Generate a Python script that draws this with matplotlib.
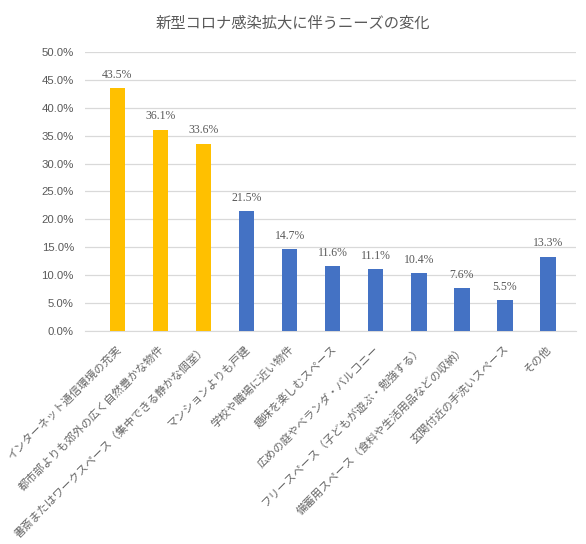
import numpy as np
import matplotlib.pyplot as plt
from matplotlib.transforms import ScaledTranslation

plt.rcParams['font.family'] = ['Noto Sans CJK JP', 'DejaVu Sans']

categories = [
    'インターネット通信環境の充実',
    '都市部よりも郊外の広く自然豊かな物件',
    '書斎またはワークスペース（集中できる静かな個室）',
    'マンションよりも戸建',
    '学校や職場に近い物件',
    '趣味を楽しむスペース',
    '広めの庭やベランダ・バルコニー',
    'フリースペース（子どもが遊ぶ・勉強する）',
    '備蓄用スペース（食料や生活用品などの収納）',
    '玄関付近の手洗いスペース',
    'その他',
]
values = [43.5, 36.1, 33.6, 21.5, 14.7, 11.6, 11.1, 10.4, 7.6, 5.5, 13.3]
highlight = [True, True, True, False, False, False, False, False, False, False, False]

gray = '#595959'
colors = ['#FFC000' if h else '#4472C4' for h in highlight]

fig = plt.figure(figsize=(5.86, 5.44), dpi=100)
ax = fig.add_axes([0.145, 0.392, 0.838, 0.512])

x = np.arange(len(categories))
ax.bar(x, values, width=0.36, color=colors, zorder=3)

for xi, v in zip(x, values):
    ax.text(xi, v + 1.3, f'{v:.1f}%', ha='center', va='bottom',
            fontsize=8.5, color=gray, family='Liberation Serif')

ax.set_ylim(0, 50)
ax.set_xlim(-0.75, len(categories) - 0.35)
ticks = np.arange(0, 50.1, 5)
ax.set_yticks(ticks)
ax.set_yticklabels([f'{t:.1f}%' for t in ticks], family='Liberation Sans')
ax.yaxis.grid(True, color='#d9d9d9', linewidth=0.9, zorder=0)
ax.tick_params(axis='y', length=0, labelsize=8.2, labelcolor=gray, pad=8)
ax.tick_params(axis='x', length=0, labelsize=8, labelcolor='#666666', pad=12)

ax.set_xticks(x)
ax.set_xticklabels(categories, rotation=45, ha='right', va='center',
                   rotation_mode='anchor')
shift = ScaledTranslation(2 / 100, 0, fig.dpi_scale_trans)
for lab in ax.get_xticklabels():
    lab.set_transform(lab.get_transform() + shift)

for s in ['top', 'right', 'left']:
    ax.spines[s].set_visible(False)
ax.spines['bottom'].set_color('#d9d9d9')

fig.text(0.5, 0.958, '新型コロナ感染拡大に伴うニーズの変化', ha='center', va='center',
         fontsize=11, color=gray)

fig.savefig('out.png', dpi=100)
